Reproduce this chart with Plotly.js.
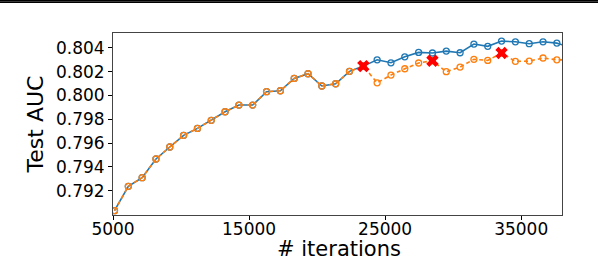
<!DOCTYPE html>
<html>
<head>
<meta charset="utf-8">
<script src="https://cdn.plot.ly/plotly-3.0.1.min.js"></script>
<style>
  html, body { margin: 0; padding: 0; background: #fff; }
  #wrap { position: relative; width: 598px; height: 258px; }
  #topbar { position: absolute; left: 0; top: 0; width: 598px; height: 3px; background: #3a3a3a; border-top: 1px solid #000; border-bottom: 1px solid #000; box-sizing: border-box; z-index: 5; }
  #chart { width: 598px; height: 258px; }
</style>
</head>
<body>
<div id="wrap">
  <div id="topbar"></div>
  <div id="chart"></div>
</div>
<script>
const iterations = [5110, 6126, 7142, 8158, 9174, 10190, 11206, 12222, 13238, 14254,
  15270, 16286, 17302, 18318, 19334, 20350, 21366, 22382, 23398, 24414,
  25430, 26446, 27462, 28478, 29494, 30510, 31526, 32542, 33558, 34574,
  35590, 36606, 37622, 38638];

const aucBlue = [0.79032, 0.79237, 0.79309, 0.79466, 0.79567, 0.79665, 0.79723, 0.79791, 0.79863, 0.79919,
  0.79919, 0.80031, 0.80039, 0.80143, 0.80182, 0.80079, 0.80098, 0.80202, 0.80246, 0.80299,
  0.80274, 0.80324, 0.80361, 0.80356, 0.80372, 0.80358, 0.80431, 0.80412, 0.80456, 0.80450,
  0.80434, 0.80450, 0.80439, 0.80402];

const aucOrange = [0.79032, 0.79237, 0.79309, 0.79466, 0.79567, 0.79665, 0.79723, 0.79791, 0.79863, 0.79919,
  0.79919, 0.80031, 0.80039, 0.80143, 0.80182, 0.80079, 0.80098, 0.80202, 0.80246, 0.80106,
  0.80171, 0.80224, 0.80272, 0.80291, 0.80199, 0.80238, 0.80303, 0.80294, 0.80356, 0.80286,
  0.80288, 0.80314, 0.80299, 0.80297];

const markIdx = [18, 23, 28];
const markX = markIdx.map(i => iterations[i]);
const markY = markIdx.map(i => aucOrange[i]);

const xTicks = [5000, 15000, 25000, 35000];
const yTicks = [0.792, 0.794, 0.796, 0.798, 0.800, 0.802, 0.804];
const xTitle = '# iterations';
const yTitle = 'Test AUC';

const traces = [
  {
    x: iterations, y: aucBlue, type: 'scatter', mode: 'lines+markers',
    line: { color: '#1f77b4', width: 1.6 },
    marker: { symbol: 'circle-open', size: 6, color: '#1f77b4', line: { width: 1.3, color: '#1f77b4' } },
    cliponaxis: true, showlegend: false
  },
  {
    x: iterations, y: aucOrange, type: 'scatter', mode: 'lines+markers',
    line: { color: '#ff7f0e', width: 1.6, dash: '4px,3px' },
    marker: { symbol: 'circle-open', size: 6, color: '#ff7f0e', line: { width: 1.3, color: '#ff7f0e' } },
    cliponaxis: true, showlegend: false
  },
  {
    x: markX, y: markY, type: 'scatter', mode: 'markers',
    marker: { symbol: 'x', size: 11, color: '#ff0000', line: { width: 0 } },
    showlegend: false
  }
];

const layout = {
  width: 598, height: 258,
  margin: { l: 113, r: 36, t: 33, b: 43 },
  paper_bgcolor: '#fff', plot_bgcolor: '#fff',
  font: { family: 'DejaVu Sans', color: '#000' },
  xaxis: {
    range: [5000, 38000],
    tickvals: xTicks, ticktext: xTicks.map(String),
    ticks: 'outside', ticklen: 4, tickwidth: 1, tickcolor: '#000',
    tickfont: { size: 17, family: 'DejaVu Sans' },
    ticklabelstandoff: -5,
    showgrid: false, zeroline: false,
    showline: true, linecolor: '#444', linewidth: 1, mirror: true,
    automargin: false
  },
  yaxis: {
    range: [0.78996, 0.80524],
    tickvals: yTicks, ticktext: yTicks.map(v => v.toFixed(3)),
    ticks: 'outside', ticklen: 4, tickwidth: 1, tickcolor: '#000',
    tickfont: { size: 17, family: 'DejaVu Sans' },
    showgrid: false, zeroline: false,
    showline: true, linecolor: '#444', linewidth: 1, mirror: true,
    automargin: false,
    title: { text: yTitle, font: { size: 22, family: 'DejaVu Sans' }, standoff: 6 }
  },
  annotations: [
    {
      text: xTitle, xref: 'paper', yref: 'paper', x: 0.503, y: -0.186,
      xanchor: 'center', yanchor: 'middle', showarrow: false,
      font: { size: 21, family: 'DejaVu Sans', color: '#000' }
    }
  ]
};

Plotly.newPlot('chart', traces, layout, { displayModeBar: false, staticPlot: true });
</script>
</body>
</html>
